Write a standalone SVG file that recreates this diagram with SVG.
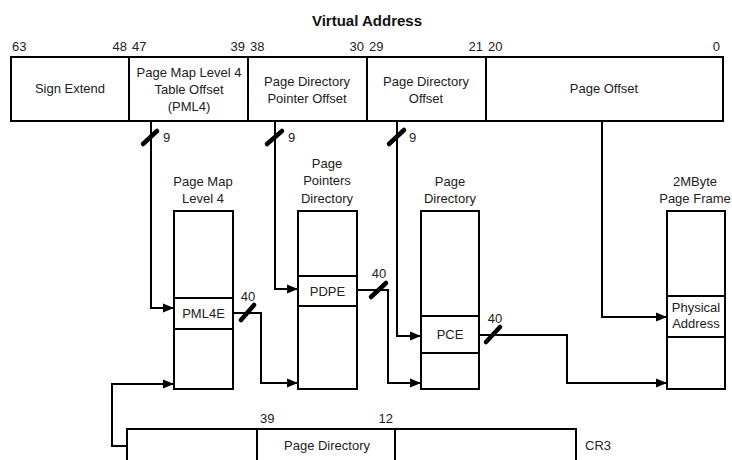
<svg xmlns="http://www.w3.org/2000/svg" width="732" height="460" viewBox="0 0 732 460">
<style>
text{font-family:"Liberation Sans",Arial,sans-serif;font-size:13px;fill:#222}
.t{font-weight:bold;font-size:15px;fill:#111}
.m{text-anchor:middle}
.e{text-anchor:end}
.b{fill:#fff;stroke:#000;stroke-width:2}
.l{fill:none;stroke:#000;stroke-width:2}
.c{fill:none;stroke:#000;stroke-width:2;marker-end:url(#ah)}
.s{stroke:#000;stroke-width:4.5;stroke-linecap:round}
</style>
<defs>
<marker id="ah" markerUnits="userSpaceOnUse" markerWidth="12" markerHeight="10" refX="11" refY="5" orient="auto">
<path d="M0,0.5 L11,5 L0,9.5 Z" fill="#000"/>
</marker>
</defs>
<text class="t m" x="367" y="26">Virtual Address</text>
<g id="virtual-address">
<rect class="b" x="11" y="57" width="712" height="64"/>
<path class="l" d="M129 57V121M248 57V121M367 57V121M486 57V121"/>
<text x="12" y="51">63</text><text class="e" x="127" y="51">48</text>
<text x="132" y="51">47</text><text class="e" x="245" y="51">39</text>
<text x="250" y="51">38</text><text class="e" x="364" y="51">30</text>
<text x="369" y="51">29</text><text class="e" x="483" y="51">21</text>
<text x="488" y="51">20</text><text class="e" x="720" y="51">0</text>
<text class="m" x="70" y="93">Sign Extend</text>
<text class="m" x="189" y="77">Page Map Level 4</text>
<text class="m" x="189" y="94">Table Offset</text>
<text class="m" x="189" y="111">(PML4)</text>
<text class="m" x="307" y="86">Page Directory</text>
<text class="m" x="307" y="103">Pointer Offset</text>
<text class="m" x="426" y="86">Page Directory</text>
<text class="m" x="426" y="103">Offset</text>
<text class="m" x="604" y="93">Page Offset</text>
</g>
<g id="pml4">
<text class="m" x="203" y="186">Page Map</text>
<text class="m" x="203" y="203">Level 4</text>
<rect class="b" x="174" y="211" width="59" height="178"/>
<path class="l" d="M174 298H233M174 329H233"/>
<text class="m" x="203.5" y="318">PML4E</text>
</g>
<g id="pdp">
<text class="m" x="327" y="168">Page</text>
<text class="m" x="327" y="185">Pointers</text>
<text class="m" x="327" y="203">Directory</text>
<rect class="b" x="298" y="211" width="59" height="178"/>
<path class="l" d="M298 276H357M298 306H357"/>
<text class="m" x="327.5" y="296">PDPE</text>
</g>
<g id="pd">
<text class="m" x="450" y="186">Page</text>
<text class="m" x="450" y="203">Directory</text>
<rect class="b" x="421" y="211" width="58" height="178"/>
<path class="l" d="M421 316H479M421 353H479"/>
<text class="m" x="450" y="339">PCE</text>
</g>
<g id="page-frame">
<text class="m" x="695" y="186">2MByte</text>
<text class="m" x="695" y="203">Page Frame</text>
<rect class="b" x="667" y="211" width="58" height="178"/>
<path class="l" d="M667 296H725M667 337H725"/>
<text class="m" x="696" y="312">Physical</text>
<text class="m" x="696" y="328">Address</text>
</g>
<g id="cr3">
<rect class="b" x="127" y="429" width="449" height="50"/>
<path class="l" d="M257 429V460M395 429V460"/>
<text x="260" y="423">39</text><text class="e" x="393" y="423">12</text>
<text class="m" x="327" y="450">Page Directory</text>
<text x="585" y="450">CR3</text>
</g>
<g id="connectors">
<path class="c" d="M151 121V308H174"/>
<path class="c" d="M275 121V289H298"/>
<path class="c" d="M397 121V336H421"/>
<path class="c" d="M602 121V317H667"/>
<path class="c" d="M233 313H261V383H298"/>
<path class="c" d="M357 290H388V383H421"/>
<path class="c" d="M479 335H567V383H667"/>
<path class="c" d="M127 446H112V384H174"/>
<line class="s" x1="143" y1="144" x2="157" y2="131"/>
<line class="s" x1="267" y1="144" x2="282" y2="131"/>
<line class="s" x1="389" y1="144" x2="404" y2="130"/>
<line class="s" x1="241" y1="320" x2="254" y2="305"/>
<line class="s" x1="371" y1="297" x2="386" y2="283"/>
<line class="s" x1="486" y1="342" x2="500" y2="327"/>
<text x="163" y="142">9</text>
<text x="288" y="142">9</text>
<text x="409" y="142">9</text>
<text class="m" x="248" y="301">40</text>
<text class="m" x="379" y="278">40</text>
<text class="m" x="495" y="323">40</text>
</g>
</svg>
